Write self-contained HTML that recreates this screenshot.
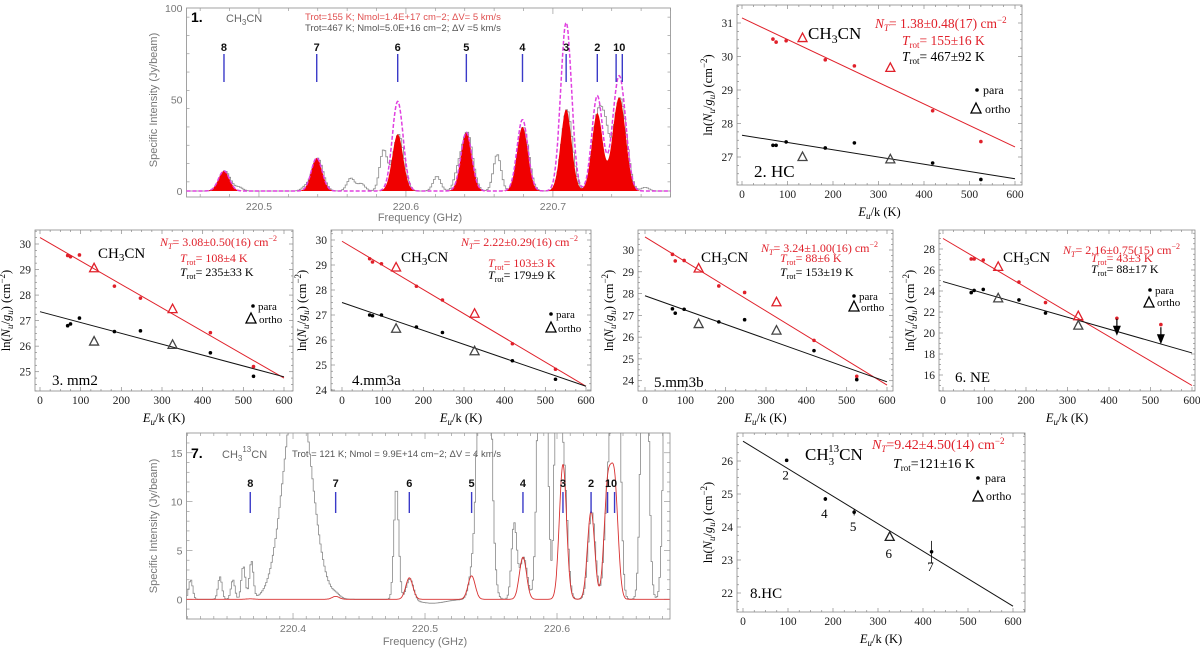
<!DOCTYPE html>
<html><head><meta charset="utf-8"><style>
html,body{margin:0;padding:0;background:#fff;}
svg{display:block;}
.ser{font-family:"Liberation Serif",serif;}
.san{font-family:"Liberation Sans",sans-serif;}
</style></head>
<body>
<svg id="fig" width="1200" height="649" viewBox="0 0 1200 649" xmlns="http://www.w3.org/2000/svg">
<defs>
<clipPath id="c1"><rect x="186.5" y="8" width="484" height="189"/></clipPath>
<clipPath id="c7"><rect x="186.5" y="433" width="483.5" height="186"/></clipPath>
<clipPath id="c2"><rect x="737" y="5" width="285" height="180"/></clipPath>
<clipPath id="c3"><rect x="35" y="230" width="258" height="161"/></clipPath>
<clipPath id="c4"><rect x="331" y="230" width="260" height="161"/></clipPath>
<clipPath id="c5"><rect x="638" y="230" width="255" height="161"/></clipPath>
<clipPath id="c6"><rect x="939" y="230" width="256" height="161"/></clipPath>
<clipPath id="c8"><rect x="737" y="433" width="288" height="179"/></clipPath>
</defs>

<g class="san">
<text x="191" y="22" font-size="14" font-weight="bold" fill="#000">1.</text>
<text x="226" y="22" font-size="11" fill="#666">CH<tspan font-size="8" dy="3">3</tspan><tspan dy="-3">CN</tspan></text>
<text x="305" y="20" font-size="9.5" fill="#e05050">Trot=155 K; Nmol=1.4E+17 cm−2; ΔV= 5 km/s</text>
<text x="305" y="31" font-size="9.5" fill="#555">Trot=467 K; Nmol=5.0E+16 cm−2; ΔV =5 km/s</text>
<text x="420" y="221" font-size="11" fill="#777" text-anchor="middle">Frequency (GHz)</text>
<text transform="translate(157,100) rotate(-90)" font-size="11" fill="#777" text-anchor="middle">Specific Intensity (Jy/beam)</text>
</g>

<g class="san">
<text x="191" y="458" font-size="14" font-weight="bold" fill="#000">7.</text>
<text x="222" y="458" font-size="11" fill="#666">CH<tspan font-size="8" dy="3">3</tspan><tspan font-size="8" dy="-9">13</tspan><tspan dy="6">CN</tspan></text>
<text x="292" y="457" font-size="9.5" fill="#555">Trot = 121 K; Nmol = 9.9E+14 cm−2; ΔV = 4 km/s</text>
<text x="425" y="645" font-size="11" fill="#777" text-anchor="middle">Frequency (GHz)</text>
<text transform="translate(157,526) rotate(-90)" font-size="11" fill="#777" text-anchor="middle">Specific Intensity (Jy/beam)</text>
</g>

<g class="ser">
<text x="808" y="39" font-size="17">CH<tspan font-size="12" dy="4">3</tspan><tspan dy="-4">CN</tspan></text>
<text x="875" y="28" font-size="13.5" fill="#e0202a"><tspan font-style="italic">N</tspan><tspan font-size="9" dy="3" font-style="italic">T</tspan><tspan dy="-3">= 1.38±0.48(17) cm</tspan><tspan font-size="9" dy="-5">−2</tspan></text>
<text x="902" y="45" font-size="13.5" fill="#e0202a"><tspan font-style="italic">T</tspan><tspan font-size="9" dy="3">rot</tspan><tspan dy="-3">= 155±16 K</tspan></text>
<text x="902" y="61" font-size="13.5" fill="#000"><tspan font-style="italic">T</tspan><tspan font-size="9" dy="3">rot</tspan><tspan dy="-3">= 467±92 K</tspan></text>
<text x="983" y="94" font-size="12">para</text>
<text x="985" y="113" font-size="12">ortho</text>
<text x="754" y="177" font-size="17">2.  HC</text>
</g>

<g class="ser">
<text x="98" y="258" font-size="15">CH<tspan font-size="11" dy="3">3</tspan><tspan dy="-3">CN</tspan></text>
<text x="160" y="246" font-size="12" fill="#e0202a"><tspan font-style="italic">N</tspan><tspan font-size="8" dy="3" font-style="italic">T</tspan><tspan dy="-3">= 3.08±0.50(16) cm</tspan><tspan font-size="8" dy="-5">−2</tspan></text>
<text x="180" y="262" font-size="12" fill="#e0202a"><tspan font-style="italic">T</tspan><tspan font-size="8" dy="3">rot</tspan><tspan dy="-3">= 108±4 K</tspan></text>
<text x="180" y="276" font-size="12"><tspan font-style="italic">T</tspan><tspan font-size="8" dy="3">rot</tspan><tspan dy="-3">= 235±33 K</tspan></text>
<text x="258" y="310" font-size="11">para</text>
<text x="259" y="323" font-size="11">ortho</text>
<text x="52" y="385" font-size="15">3. mm2</text>
</g>

<g class="ser">
<text x="401" y="262" font-size="15">CH<tspan font-size="11" dy="3">3</tspan><tspan dy="-3">CN</tspan></text>
<text x="461" y="246" font-size="12" fill="#e0202a"><tspan font-style="italic">N</tspan><tspan font-size="8" dy="3" font-style="italic">T</tspan><tspan dy="-3">= 2.22±0.29(16) cm</tspan><tspan font-size="8" dy="-5">−2</tspan></text>
<text x="488" y="267" font-size="12" fill="#e0202a"><tspan font-style="italic">T</tspan><tspan font-size="8" dy="3">rot</tspan><tspan dy="-3">= 103±3 K</tspan></text>
<text x="488" y="279" font-size="12"><tspan font-style="italic">T</tspan><tspan font-size="8" dy="3">rot</tspan><tspan dy="-3">= 179±9 K</tspan></text>
<text x="556" y="318" font-size="11">para</text>
<text x="558" y="332" font-size="11">ortho</text>
<text x="352" y="385" font-size="15">4.mm3a</text>
</g>

<g class="ser">
<text x="701" y="262" font-size="15">CH<tspan font-size="11" dy="3">3</tspan><tspan dy="-3">CN</tspan></text>
<text x="761" y="252" font-size="12" fill="#e0202a"><tspan font-style="italic">N</tspan><tspan font-size="8" dy="3" font-style="italic">T</tspan><tspan dy="-3">= 3.24±1.00(16) cm</tspan><tspan font-size="8" dy="-5">−2</tspan></text>
<text x="780" y="262" font-size="12" fill="#e0202a"><tspan font-style="italic">T</tspan><tspan font-size="8" dy="3">rot</tspan><tspan dy="-3">= 88±6 K</tspan></text>
<text x="780" y="276" font-size="12"><tspan font-style="italic">T</tspan><tspan font-size="8" dy="3">rot</tspan><tspan dy="-3">= 153±19 K</tspan></text>
<text x="859" y="300" font-size="11">para</text>
<text x="861" y="311" font-size="11">ortho</text>
<text x="654" y="387" font-size="15">5.mm3b</text>
</g>

<g class="ser">
<text x="1003" y="262" font-size="15">CH<tspan font-size="11" dy="3">3</tspan><tspan dy="-3">CN</tspan></text>
<text x="1063" y="254" font-size="12" fill="#e0202a"><tspan font-style="italic">N</tspan><tspan font-size="8" dy="3" font-style="italic">T</tspan><tspan dy="-3">= 2.16±0.75(15) cm</tspan><tspan font-size="8" dy="-5">−2</tspan></text>
<text x="1091" y="262" font-size="12" fill="#e0202a"><tspan font-style="italic">T</tspan><tspan font-size="8" dy="3">rot</tspan><tspan dy="-3">= 43±3 K</tspan></text>
<text x="1091" y="273" font-size="12"><tspan font-style="italic">T</tspan><tspan font-size="8" dy="3">rot</tspan><tspan dy="-3">= 88±17 K</tspan></text>
<text x="1155" y="294" font-size="11">para</text>
<text x="1157" y="306" font-size="11">ortho</text>
<text x="955" y="382" font-size="15">6.  NE</text>
</g>

<g class="ser">
<text x="805" y="460" font-size="17">CH<tspan font-size="11" dy="5">3</tspan><tspan font-size="11" dx="-6" dy="-13">13</tspan><tspan dy="8">CN</tspan></text>
<text x="872" y="449" font-size="14" fill="#e0202a"><tspan font-style="italic">N</tspan><tspan font-size="9" dy="3" font-style="italic">T</tspan><tspan dy="-3">=9.42±4.50(14) cm</tspan><tspan font-size="9" dy="-5">−2</tspan></text>
<text x="893" y="468" font-size="14"><tspan font-style="italic">T</tspan><tspan font-size="9" dy="3">rot</tspan><tspan dy="-3">=121±16 K</tspan></text>
<text x="985" y="482" font-size="12">para</text>
<text x="986" y="500" font-size="12">ortho</text>
<text x="750" y="598" font-size="15">8.HC</text>
</g>
</svg>

<script>
// ---------- Rotation diagram data (Eu/k in K) ----------
const euPara = [68, 75, 97, 183, 247, 419, 525];
const euOrtho = [133, 326];
const xTickVals = [0, 100, 200, 300, 400, 500, 600];

const p2RedPara = [30.52, 30.43, 30.47, 29.9, 29.72, 28.38, 27.46];
const p2RedOrtho = [30.55, 29.66];
const p2BlackPara = [27.35, 27.35, 27.45, 27.27, 27.42, 26.82, 26.33];
const p2BlackOrtho = [27.0, 26.93];
const p2RedFit = [31.15, 27.3];
const p2BlackFit = [27.65, 26.35];
const p2YTicks = [27, 28, 29, 30, 31];

const p3RedPara = [29.55, 29.5, 29.57, 28.35, 27.88, 26.53, 25.2];
const p3RedOrtho = [29.05, 27.45];
const p3BlackPara = [26.8, 26.87, 27.1, 26.57, 26.6, 25.74, 24.82];
const p3BlackOrtho = [26.18, 26.05];
const p3RedFit = [30.25, 24.75];
const p3BlackFit = [27.35, 24.8];
const p3YTicks = [25, 26, 27, 28, 29, 30];

const p4RedPara = [29.25, 29.12, 29.05, 28.15, 27.6, 25.85, 24.83];
const p4RedOrtho = [28.9, 27.05];
const p4BlackPara = [27.0, 26.97, 27.0, 26.52, 26.3, 25.17, 24.43];
const p4BlackOrtho = [26.45, 25.55];
const p4RedFit = [29.95, 24.15];
const p4BlackFit = [27.5, 24.15];
const p4YTicks = [24, 25, 26, 27, 28, 29, 30];

const p5RedPara = [29.8, 29.5, 29.52, 28.35, 28.05, 25.85, 24.2];
const p5RedOrtho = [29.15, 27.6];
const p5BlackPara = [27.3, 27.1, 27.28, 26.7, 26.8, 25.38, 24.05];
const p5BlackOrtho = [26.6, 26.3];
const p5RedFit = [30.6, 23.8];
const p5BlackFit = [27.9, 23.95];
const p5YTicks = [24, 25, 26, 27, 28, 29, 30];

const p6RedPara = [27.05, 27.05, 26.95, 24.85, 22.9, 21.4, 20.8];
const p6RedOrtho = [26.3, 21.6];
const p6BlackPara = [23.85, 24.05, 24.15, 23.15, 21.9, 20.4, 19.6];
const p6BlackOrtho = [23.3, 20.7];
const p6BlackLimit = [0, 0, 0, 0, 0, 1, 1];
const p6RedFit = [29.0, 15.0];
const p6BlackFit = [24.9, 18.1];
const p6YTicks = [16, 18, 20, 22, 24, 26, 28];

const p8Eu = [97, 183, 247, 419];
const p8Para = [26.02, 24.85, 24.45, 23.25];
const p8ParaErr = [0.05, 0.06, 0.1, 0.33];
const p8ParaLabels = ['2', '4', '5', '7'];
const p8OrthoEu = [326];
const p8Ortho = [23.7];
const p8OrthoLabels = ['6'];
const p8Fit = [26.6, 21.6];
const p8YTicks = [22, 23, 24, 25, 26];

// ---------- Spectrum data ----------
const s1LineFreq = [220.4762, 220.5393, 220.5944, 220.6411, 220.6793, 220.7090, 220.7302, 220.7430, 220.7472];
const s1LineLabels = ['8', '7', '6', '5', '4', '3', '2', '1', '0'];
const s1Red = [11, 18, 31, 32, 35, 44.5, 42.5, 30, 30];
const s1Magenta = [11, 18, 49, 32, 39, 92, 52, 37, 37];
const s1ExtraFreq = [220.4858, 220.531, 220.5619, 220.569, 220.5842, 220.6205, 220.6346, 220.6615, 220.7354, 220.7622];
const s1ExtraAmp = [2, 2, 7, 4, 22, 8, 8, 20, 20, 2];
const s1FreqTicks = [220.5, 220.6, 220.7];
const s1YTicks = [0, 50, 100];

const s7LineFreq = [220.3676, 220.4323, 220.4881, 220.5353, 220.5742, 220.6045, 220.6258, 220.6383, 220.6436];
const s7LineLabels = ['8', '7', '6', '5', '4', '3', '2', '1', '0'];
const s7Red = [0.05, 0.3, 2.2, 2.4, 4.3, 13.8, 9.0, 11.0, 11.5];
const s7ExtraFreq = [220.322, 220.3442, 220.354, 220.3619, 220.368, 220.403, 220.4778, 220.5445, 220.5671, 220.5885, 220.600, 220.6445, 220.666, 220.6833, 220.505];
const s7ExtraAmp = [2, 2.3, 2, 3.4, 3.8, 22, 11.5, 60, 7.7, 50, 40, 30, 40, 40, -0.4];
const s7ExtraWidth = [0.0015, 0.0015, 0.0015, 0.0015, 0.0015, 0.0105, 0.0018, 0.0036, 0.002, 0.0028, 0.0018, 0.0025, 0.00245, 0.0025, 0.01];
const s7FreqTicks = [220.4, 220.5, 220.6];
const s7YTicks = [0, 5, 10, 15];

// ---------- helpers ----------
const NS = "http://www.w3.org/2000/svg";
const svg = document.getElementById('fig');
function mk(tag, attrs, parent) {
  const e = document.createElementNS(NS, tag);
  for (const k in attrs) e.setAttribute(k, attrs[k]);
  (parent || svg).appendChild(e);
  return e;
}
const RED = '#e0202a';

function rotPanel(id, box, x0, x600, ya, yb, yTicks, minorY) {
  const X = e => x0 + (x600 - x0) * e / 600;
  const Y = v => ya[1] + (v - ya[0]) * (yb[1] - ya[1]) / (yb[0] - ya[0]);
  const g = mk('g', {class: 'ser'});
  
  
  const frame = mk('rect', {x: box.l, y: box.t, width: box.r - box.l, height: box.b - box.t, fill: 'none', stroke: '#888', 'stroke-width': 0.8}, g);
  
  
  for (let e = -50; e <= 650; e += 25) {
    const px = X(e);
    if (px < box.l || px > box.r) continue;
    const len = (e % 100 === 0) ? 4 : 2;
    mk('line', {x1: px, y1: box.b, x2: px, y2: box.b - len, stroke: '#888', 'stroke-width': 0.7}, g);
    mk('line', {x1: px, y1: box.t, x2: px, y2: box.t + len, stroke: '#888', 'stroke-width': 0.7}, g);
  }
  xTickVals.forEach(v => {
    const t = mk('text', {x: X(v), y: box.b + 13, 'font-size': 11.5, 'text-anchor': 'middle', fill: '#222'}, g);
    t.textContent = String(v);
    
    
  });
  const lo = Math.min(yTicks[0], yTicks[yTicks.length - 1]) - 2, hi = yTicks[yTicks.length - 1] + 2;
  for (let v = lo; v <= hi + 1e-9; v += minorY) {
    const py = Y(v);
    if (py < box.t || py > box.b) continue;
    const major = yTicks.some(t => Math.abs(t - v) < 1e-6);
    const len = major ? 4 : 2;
    mk('line', {x1: box.l, y1: py, x2: box.l + len, y2: py, stroke: '#888', 'stroke-width': 0.7}, g);
    mk('line', {x1: box.r, y1: py, x2: box.r - len, y2: py, stroke: '#888', 'stroke-width': 0.7}, g);
  }
  yTicks.forEach(v => {
    const t = mk('text', {x: box.l - 4, y: Y(v) + 4, 'font-size': 11.5, 'text-anchor': 'end', fill: '#222'}, g);
    t.textContent = String(v);
    
    
  });
  const xt = mk('text', {x: (box.l + box.r) / 2, y: box.b + 31, 'font-size': 12.5, 'text-anchor': 'middle'}, g);
  xt.innerHTML = '<tspan font-style="italic">E</tspan><tspan font-style="italic" font-size="9" dy="3">u</tspan><tspan dy="-3">/k (K)</tspan>';
  
  
  const yt = mk('text', {transform: 'translate(' + (box.l - 25) + ',' + ((box.t + box.b) / 2) + ') rotate(-90)', 'font-size': 12.5, 'text-anchor': 'middle'}, g);
  yt.innerHTML = 'ln(<tspan font-style="italic">N</tspan><tspan font-style="italic" font-size="9" dy="3">u</tspan><tspan dy="-3">/</tspan><tspan font-style="italic">g</tspan><tspan font-style="italic" font-size="9" dy="3">u</tspan><tspan dy="-3">) (cm</tspan><tspan font-size="9" dy="-5">−2</tspan><tspan dy="5">)</tspan>';
  
  
  const plot = mk('g', {'clip-path': 'url(#c' + id + ')'}, g);
  return {g, plot, X, Y};
}

function fitLine(P, fit, color, name) {
  const l = mk('line', {x1: P.X(0), y1: P.Y(fit[0]), x2: P.X(600), y2: P.Y(fit[1]), stroke: color, 'stroke-width': 1}, P.plot);
  
  
}
function dots(P, xs, ys, color, name, r) {
  xs.forEach((e, i) => {
    const c = mk('circle', {cx: P.X(e), cy: P.Y(ys[i]), r: r || 1.8, fill: color}, P.g);
    
    
  });
}
function tris(P, xs, ys, color, name) {
  xs.forEach((e, i) => {
    const x = P.X(e), y = P.Y(ys[i]);
    const t = mk('polygon', {points: (x - 4.5) + ',' + (y + 3.5) + ' ' + (x + 4.5) + ',' + (y + 3.5) + ' ' + x + ',' + (y - 5), fill: 'none', stroke: color, 'stroke-width': 1.3}, P.g);
    
    
  });
}
function legend(P, dx, dy, tx, ty) {
  const d = mk('circle', {cx: dx, cy: dy, r: 1.8, fill: '#000'}, P.g);
  
  
  const t = mk('polygon', {points: (tx - 5) + ',' + (ty + 4) + ' ' + (tx + 5) + ',' + (ty + 4) + ' ' + tx + ',' + (ty - 6), fill: 'none', stroke: '#000', 'stroke-width': 1.3}, P.g);
  
  
}
function fullPanel(P, rp, ro, bp, bo, rf, bf) {
  fitLine(P, rf, RED, 'red-fit-line');
  fitLine(P, bf, '#111', 'black-fit-line');
  dots(P, euPara, rp, RED, 'red-para-point');
  tris(P, euOrtho, ro, RED, 'red-ortho-point');
  dots(P, euPara, bp, '#000', 'black-para-point');
  tris(P, euOrtho, bo, '#444', 'black-ortho-point');
}

const P2 = rotPanel(2, {l: 737, r: 1022, t: 5, b: 185}, 742, 1015, [31, 23], [27, 157], p2YTicks, 0.25);
fullPanel(P2, p2RedPara, p2RedOrtho, p2BlackPara, p2BlackOrtho, p2RedFit, p2BlackFit);
legend(P2, 977, 90, 976, 109);
const P3 = rotPanel(3, {l: 35, r: 293, t: 230, b: 391}, 40, 284, [30, 244], [25, 371.7], p3YTicks, 0.25);
fullPanel(P3, p3RedPara, p3RedOrtho, p3BlackPara, p3BlackOrtho, p3RedFit, p3BlackFit);
legend(P3, 253, 306, 251, 319);
const P4 = rotPanel(4, {l: 331, r: 591, t: 230, b: 391}, 342, 586, [30, 240], [24, 390], p4YTicks, 0.25);
fullPanel(P4, p4RedPara, p4RedOrtho, p4BlackPara, p4BlackOrtho, p4RedFit, p4BlackFit);
legend(P4, 551, 314, 551, 328);
const P5 = rotPanel(5, {l: 638, r: 893, t: 230, b: 391}, 645, 887, [30, 250], [24, 380.7], p5YTicks, 0.25);
fullPanel(P5, p5RedPara, p5RedOrtho, p5BlackPara, p5BlackOrtho, p5RedFit, p5BlackFit);
legend(P5, 854, 296, 854, 307);
const P6 = rotPanel(6, {l: 939, r: 1195, t: 230, b: 391}, 943, 1192, [28, 249], [16, 375], p6YTicks, 0.5);
fitLine(P6, p6RedFit, RED, 'red-fit-line');
fitLine(P6, p6BlackFit, '#111', 'black-fit-line');
dots(P6, euPara, p6RedPara, RED, 'red-para-point');
tris(P6, euOrtho, p6RedOrtho, RED, 'red-ortho-point');
tris(P6, euOrtho, p6BlackOrtho, '#444', 'black-ortho-point');
euPara.forEach((e, i) => {
  const x = P6.X(e), y = P6.Y(p6BlackPara[i]);
  if (p6BlackLimit[i]) {
    const s = mk('line', {x1: x, y1: y - 10, x2: x, y2: y, stroke: '#000', 'stroke-width': 1.2}, P6.g);
    
    
    const a = mk('polygon', {points: (x - 4) + ',' + (y - 3) + ' ' + (x + 4) + ',' + (y - 3) + ' ' + x + ',' + (y + 7), fill: '#000'}, P6.g);
    
    
  } else {
    const c = mk('circle', {cx: x, cy: y, r: 1.8, fill: '#000'}, P6.g);
    
    
  }
});
legend(P6, 1150, 290, 1149, 303);
const P8 = rotPanel(8, {l: 737, r: 1025, t: 433, b: 612}, 743, 1013, [26, 461], [22, 593], p8YTicks, 0.25);
fitLine(P8, p8Fit, '#111', 'fit-line');
p8Eu.forEach((e, i) => {
  const x = P8.X(e), y = P8.Y(p8Para[i]);
  const eb = mk('line', {x1: x, y1: P8.Y(p8Para[i] + p8ParaErr[i]), x2: x, y2: P8.Y(p8Para[i] - p8ParaErr[i]), stroke: '#000', 'stroke-width': 0.8}, P8.g);
  
  
  const lb = mk('text', {x: x - 1, y: y + 19, 'font-size': 13, 'text-anchor': 'middle'}, P8.g);
  lb.textContent = p8ParaLabels[i];
  
  
});
dots(P8, p8Eu, p8Para, '#000', 'para-point');
tris(P8, p8OrthoEu, p8Ortho, '#222', 'ortho-point');
p8OrthoEu.forEach((e, i) => {
  const lb = mk('text', {x: P8.X(e) - 1, y: P8.Y(p8Ortho[i]) + 21, 'font-size': 13, 'text-anchor': 'middle'}, P8.g);
  lb.textContent = p8OrthoLabels[i];
  
  
});
legend(P8, 978, 478, 978, 497);

// ---------- Spectra ----------
function gauss(f, c, a, s) { const d = (f - c) / s; return a * Math.exp(-0.5 * d * d); }
function specPanel(id, box, fmin, fmax, y0, pxPerUnit, yTicks, minorY, fTicks, minorF) {
  const X = f => box.l + (f - fmin) / (fmax - fmin) * (box.r - box.l);
  const Y = v => y0 - v * pxPerUnit;
  const g = mk('g', {class: 'san'});
  
  
  const fr = mk('rect', {x: box.l, y: box.t, width: box.r - box.l, height: box.b - box.t, fill: 'none', stroke: '#999', 'stroke-width': 0.9}, g);
  
  
  for (let k = Math.ceil(fmin / minorF); k * minorF <= fmax; k++) {
    const f = k * minorF, px = X(f);
    const major = Math.abs(f * 10 - Math.round(f * 10)) < 1e-6;
    const len = major ? 6 : 3;
    mk('line', {x1: px, y1: box.b, x2: px, y2: box.b - len, stroke: '#999', 'stroke-width': 0.7}, g);
    mk('line', {x1: px, y1: box.t, x2: px, y2: box.t + len, stroke: '#999', 'stroke-width': 0.7}, g);
  }
  fTicks.forEach(f => {
    const t = mk('text', {x: X(f), y: box.b + 13, 'font-size': 10.5, 'text-anchor': 'middle', fill: '#777'}, g);
    t.textContent = f.toFixed(1);
    
    
  });
  for (let v = -5; v <= yTicks[yTicks.length - 1] + 5; v += minorY) {
    const py = Y(v);
    if (py < box.t - 0.1 || py > box.b) continue;
    const major = yTicks.indexOf(v) >= 0;
    const len = major ? 6 : 3;
    mk('line', {x1: box.l, y1: py, x2: box.l + len, y2: py, stroke: '#999', 'stroke-width': 0.7}, g);
    mk('line', {x1: box.r, y1: py, x2: box.r - len, y2: py, stroke: '#999', 'stroke-width': 0.7}, g);
  }
  yTicks.forEach(v => {
    const t = mk('text', {x: box.l - 4, y: Y(v) + 4, 'font-size': 10.5, 'text-anchor': 'end', fill: '#777'}, g);
    t.textContent = String(v);
    
    
  });
  const plot = mk('g', {'clip-path': 'url(#c' + id + ')'}, g);
  return {g, plot, X, Y, fmin, fmax};
}
function markers(S, freqs, labels, yTop, yBot, yLab) {
  freqs.forEach((f, i) => {
    const m = mk('line', {x1: S.X(f), y1: yTop, x2: S.X(f), y2: yBot, stroke: '#3a3ac8', 'stroke-width': 1.4}, S.g);
    
    
  });
  for (let i = 0; i < 7; i++) {
    const t = mk('text', {x: S.X(freqs[i]), y: yLab, 'font-size': 11, 'font-weight': 'bold', 'text-anchor': 'middle', fill: '#111'}, S.g);
    t.textContent = labels[i];
    
    
  }
  const t = mk('text', {x: S.X((freqs[7] + freqs[8]) / 2), y: yLab, 'font-size': 11, 'font-weight': 'bold', 'text-anchor': 'middle', fill: '#111'}, S.g);
  t.textContent = labels[7] + labels[8];
  
  
}

// Panel 1
const S1 = specPanel(1, {l: 186.5, r: 670.5, t: 8, b: 197}, 220.4507, 220.7800, 191, 1.83, s1YTicks, 10, s1FreqTicks, 0.02);
const sig1 = 0.0037;
const redModel1 = f => s1LineFreq.reduce((a, c, i) => a + gauss(f, c, s1Red[i], sig1), 0);
const magModel1 = f => s1LineFreq.reduce((a, c, i) => a + gauss(f, c, s1Magenta[i], sig1), 0);
const obs1 = f => redModel1(f) + s1ExtraFreq.reduce((a, c, i) => a + gauss(f, c, s1ExtraAmp[i], 0.0026), 0);
let fillPts = [S1.X(S1.fmin) + ',' + S1.Y(0)], magPts = [], grayPts = [];
for (let f = S1.fmin; f <= S1.fmax; f += 0.0004) {
  fillPts.push(S1.X(f).toFixed(1) + ',' + S1.Y(redModel1(f)).toFixed(1));
  magPts.push(S1.X(f).toFixed(1) + ',' + S1.Y(magModel1(f)).toFixed(1));
}
fillPts.push(S1.X(S1.fmax) + ',' + S1.Y(0));
for (let f = S1.fmin; f <= S1.fmax; f += 0.0012) {
  const v = obs1(f);
  grayPts.push(S1.X(f).toFixed(1) + ',' + S1.Y(v).toFixed(1));
  grayPts.push(S1.X(f + 0.0012).toFixed(1) + ',' + S1.Y(v).toFixed(1));
}
const gr1 = mk('polyline', {points: grayPts.join(' '), fill: 'none', stroke: '#888', 'stroke-width': 0.8}, S1.plot);


const rf1 = mk('polygon', {points: fillPts.join(' '), fill: '#f00000', stroke: 'none'}, S1.plot);


const mg1 = mk('polyline', {points: magPts.join(' '), fill: 'none', stroke: '#e040e0', 'stroke-width': 1.5, 'stroke-dasharray': '4,2'}, S1.plot);


markers(S1, s1LineFreq, s1LineLabels, 54, 82, 51);

// Panel 7
const S7 = specPanel(7, {l: 186.5, r: 670, t: 433, b: 619}, 220.3193, 220.6856, 599.3, 9.77, s7YTicks, 1, s7FreqTicks, 0.01);
const sig7 = 0.0027;
const redModel7 = f => s7LineFreq.reduce((a, c, i) => a + gauss(f, c, s7Red[i], sig7), 0);
const obs7 = f => redModel7(f) + s7ExtraFreq.reduce((a, c, i) => a + gauss(f, c, s7ExtraAmp[i], s7ExtraWidth[i]), 0);
let red7 = [], gray7 = [];
for (let f = S7.fmin; f <= S7.fmax; f += 0.0003) red7.push(S7.X(f).toFixed(1) + ',' + S7.Y(redModel7(f)).toFixed(1));
for (let f = S7.fmin; f <= S7.fmax; f += 0.001) {
  const v = Math.min(obs7(f), 25);
  gray7.push(S7.X(f).toFixed(1) + ',' + S7.Y(v).toFixed(1));
  gray7.push(S7.X(f + 0.001).toFixed(1) + ',' + S7.Y(v).toFixed(1));
}
const gr7 = mk('polyline', {points: gray7.join(' '), fill: 'none', stroke: '#888', 'stroke-width': 0.8}, S7.plot);


const rl7 = mk('polyline', {points: red7.join(' '), fill: 'none', stroke: '#d83030', 'stroke-width': 0.9}, S7.plot);


markers(S7, s7LineFreq, s7LineLabels, 492, 513, 487);
</script>
</body></html>
